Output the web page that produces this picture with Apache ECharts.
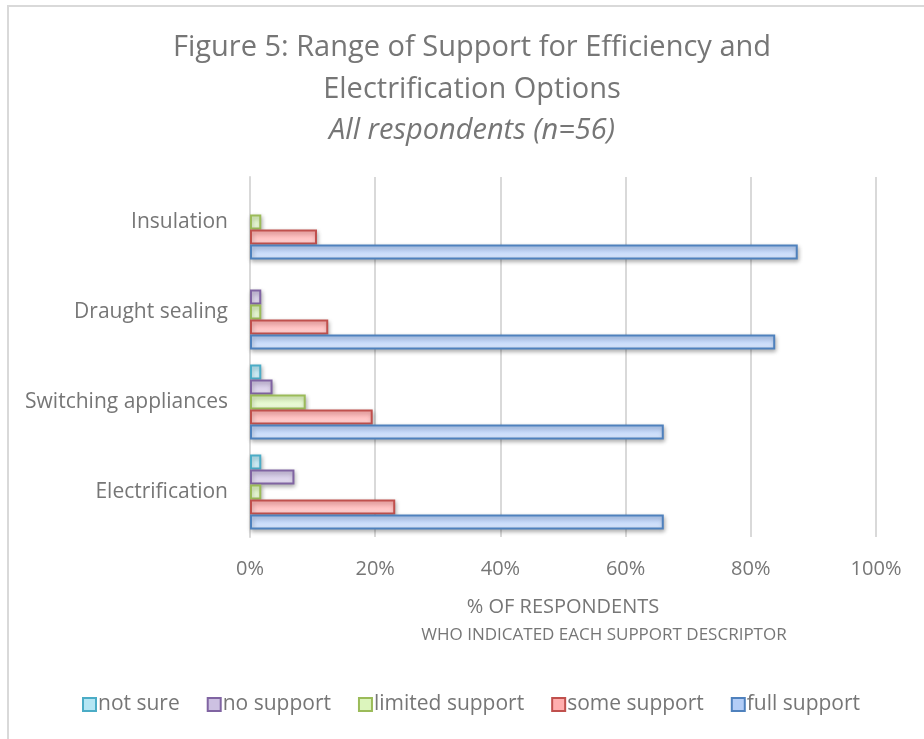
<!DOCTYPE html>
<html>
<head>
<meta charset="utf-8">
<script src="https://cdn.jsdelivr.net/npm/echarts@6/dist/echarts.min.js"></script>
<style>
  html, body { margin: 0; padding: 0; background: #ffffff; }
  #chart { width: 924px; height: 739px; }
</style>
</head>
<body>
<div id="chart"></div>
<script>
// Options, listed bottom to top on the category axis
const categories = ['Electrification', 'Switching appliances', 'Draught sealing', 'Insulation'];

// Share of respondents (%) per support level, in category order above
const notSure        = [1.8, 1.8, 0,    0];
const noSupport      = [7.1, 3.6, 1.8,  0];
const limitedSupport = [1.8, 8.9, 1.8,  1.8];
const someSupport    = [23.2, 19.6, 12.5, 10.7];
const fullSupport    = [66.1, 66.1, 83.9, 87.5];

const seriesNames = ['not sure', 'no support', 'limited support', 'some support', 'full support'];
const seriesData = [notSure, noSupport, limitedSupport, someSupport, fullSupport];

const xTicks = [0, 20, 40, 60, 80, 100];

// border colour, gradient top, gradient bottom
const palette = [
  ['#4bacc6', '#b4e6f4', '#dcf4fb'],
  ['#8064a2', '#cdc1e2', '#e6e0f1'],
  ['#9bbb59', '#dcf5bd', '#eefbdf'],
  ['#c0504d', '#ffaeae', '#ffd4d4'],
  ['#4f81bd', '#b3cdf7', '#dce8fc']
];

const textGray = '#767676';
const font = '"Open Sans", Lato, sans-serif';

const chart = echarts.init(document.getElementById('chart'), null, { renderer: 'canvas' });

const series = seriesNames.map((name, i) => ({
  name: name,
  type: 'bar',
  // a zero share draws no bar at all
  data: seriesData[i].map(v => (v === 0 ? '-' : v)),
  barWidth: 15,
  barGap: '0%',
  itemStyle: {
    color: new echarts.graphic.LinearGradient(0, 0, 0, 1, [
      { offset: 0, color: palette[i][1] },
      { offset: 1, color: palette[i][2] }
    ]),
    borderColor: palette[i][0],
    borderWidth: 2,
    shadowColor: 'rgba(0,0,0,0.28)',
    shadowBlur: 4,
    shadowOffsetX: 1,
    shadowOffsetY: 2
  },
  emphasis: { disabled: true }
}));

chart.setOption({
  animation: false,
  backgroundColor: '#ffffff',
  title: {
    left: 467,
    top: 22,
    textAlign: 'center',
    text: '{a|Figure 5: Range of Support for Efficiency and}\n{a|Electrification Options}\n{b|All respondents (n=56)}',
    textStyle: {
      fontWeight: 'normal',
      rich: {
        a: { fontFamily: font, fontSize: 29, fontWeight: 'normal', color: textGray, lineHeight: 41.5, align: 'center' },
        b: { fontFamily: font, fontSize: 29, fontWeight: 'normal', color: textGray, lineHeight: 41.5, fontStyle: 'italic', align: 'center' }
      }
    }
  },
  graphic: [{
    type: 'rect',
    shape: { x: 8, y: 6, width: 960, height: 780 },
    style: { fill: 'none', stroke: '#d9d9d9', lineWidth: 2 },
    silent: true
  }],
  legend: {
    bottom: 19,
    left: 77,
    itemWidth: 13,
    itemHeight: 13,
    itemGap: 27,
    icon: 'rect',
    data: seriesNames.map((n, i) => ({
      name: n,
      itemStyle: { color: palette[i][1], borderColor: palette[i][0], borderWidth: 2 }
    })),
    textStyle: { fontFamily: font, fontSize: 21, color: textGray, padding: [0, 0, 0, -3] }
  },
  grid: { left: 250, right: 48, top: 177, bottom: 202 },
  xAxis: {
    type: 'value',
    min: 0,
    max: 100,
    interval: 20,
    axisLabel: {
      formatter: v => (xTicks.includes(v) ? v + '%' : ''),
      fontFamily: font, fontSize: 20, color: textGray, margin: 22
    },
    axisLine: { show: false },
    axisTick: { show: false },
    splitLine: { lineStyle: { color: '#d9d9d9', width: 2 } },
    name: '{a|% OF RESPONDENTS}\n{b|WHO INDICATED EACH SUPPORT DESCRIPTOR}',
    nameLocation: 'middle',
    nameGap: 56,
    nameTextStyle: {
      verticalAlign: 'top',
      rich: {
        a: { fontFamily: font, fontSize: 20, color: textGray, lineHeight: 28, align: 'center' },
        b: { fontFamily: font, fontSize: 17, color: textGray, lineHeight: 28, align: 'center', padding: [0, 0, 0, 82] }
      }
    }
  },
  yAxis: {
    type: 'category',
    data: categories,
    axisLine: { show: true, lineStyle: { color: '#d9d9d9', width: 2 } },
    axisTick: { show: false },
    axisLabel: { fontFamily: font, fontSize: 21, color: textGray, margin: 22 }
  },
  series: series
});
</script>
</body>
</html>
